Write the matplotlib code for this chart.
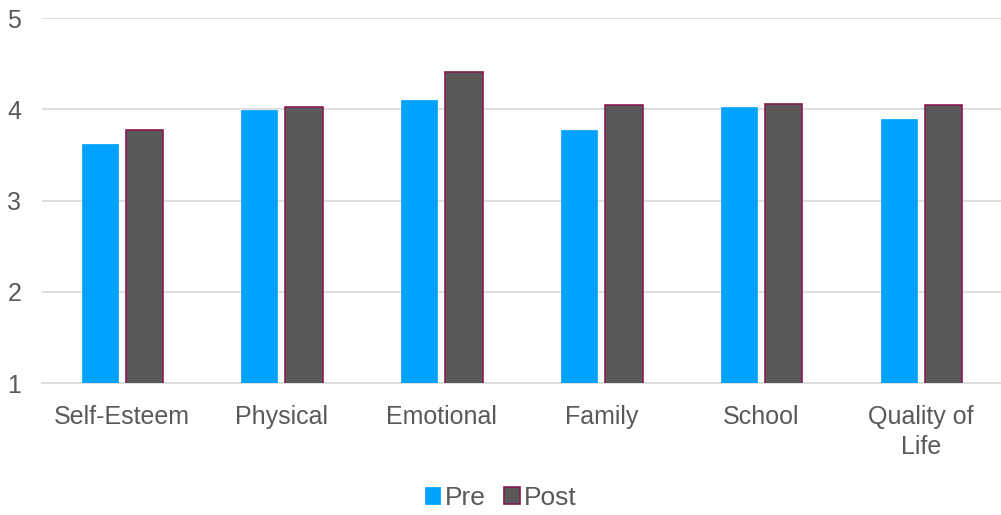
import matplotlib
matplotlib.use('Agg')
import matplotlib.pyplot as plt
import numpy as np

categories = ['Self-Esteem', 'Physical', 'Emotional', 'Family', 'School', 'Quality of\nLife']
pre = [3.62, 3.99, 4.10, 3.77, 4.03, 3.89]
post = [3.77, 4.02, 4.41, 4.05, 4.06, 4.05]

plt.rcParams['font.family'] = ['Liberation Sans', 'DejaVu Sans']
text_color = '#595959'

fig = plt.figure(figsize=(10.01, 5.15), dpi=100)
ax = fig.add_axes([0.042, 0.2563, 0.958, 0.7087])

x = np.arange(len(categories))
w = 0.225
ax.bar(x - 0.14, pre, w, color='#00a2ff', edgecolor='#00a2ff', linewidth=0.5,
       label='Pre', zorder=3)
ax.bar(x + 0.14, post, w + 0.01, color='#595959', edgecolor='#8b1a4f', linewidth=1.2,
       label='Post', zorder=3)

ax.set_xlim(-0.5, len(categories) - 0.5)
ax.set_ylim(1, 5)
ax.set_yticks([1, 2, 3, 4, 5])
ax.set_xticks(x)
ax.set_xticklabels(categories, linespacing=1.3)
ax.grid(axis='y', color='#d9d9d9', linewidth=1.2, zorder=0)
for s in ['top', 'right', 'left']:
    ax.spines[s].set_visible(False)
ax.spines['bottom'].set_color('#d9d9d9')
ax.spines['bottom'].set_linewidth(1.2)
ax.tick_params(axis='both', length=0, labelsize=18, colors=text_color)
ax.tick_params(axis='y', pad=15)
ax.tick_params(axis='x', pad=16)

fig.legend(loc='center', bbox_to_anchor=(0.5, 0.033), ncol=2, frameon=False,
           fontsize=19, labelcolor=text_color, handlelength=0.6, handleheight=0.6,
           handletextpad=0.15, columnspacing=0.7)

fig.savefig('out.png', dpi=100)
